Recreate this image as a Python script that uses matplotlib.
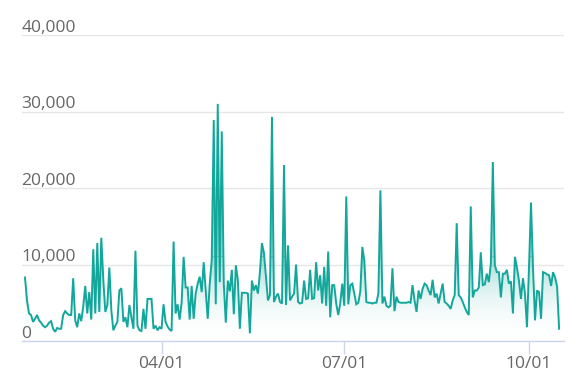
import numpy as np
import pandas as pd
import matplotlib
matplotlib.use("Agg")
import matplotlib.pyplot as plt
import matplotlib.dates as mdates
from matplotlib.transforms import blended_transform_factory

START = "2019-01-23"

# daily values, in thousands
VALUES_K = [
    8.3, 5.3, 3.6, 3.4, 2.5, 2.9, 3.4, 2.7, 2.4, 2.0,
    1.8, 2.0, 2.4, 2.6, 1.6, 1.2, 1.7, 1.6, 1.6, 3.4,
    3.9, 3.6, 3.4, 3.4, 8.2, 2.7, 1.8, 3.6, 2.6, 4.5,
    7.2, 3.6, 6.4, 2.8, 12.0, 3.6, 12.8, 3.8, 13.5, 8.0,
    3.8, 4.7, 9.6, 4.0, 1.4, 2.0, 2.5, 6.6, 6.9, 2.5,
    3.1, 1.8, 4.7, 3.1, 1.6, 11.8, 2.0, 1.4, 1.3, 4.2,
    1.6, 5.5, 5.5, 5.5, 1.6, 2.0, 1.4, 1.8, 1.6, 4.8,
    2.5, 1.9, 1.5, 1.3, 13.0, 3.6, 4.8, 2.8, 5.0, 11.0,
    7.0, 7.0, 2.8, 7.2, 2.9, 6.2, 7.5, 8.4, 6.4, 10.3,
    6.6, 2.9, 7.5, 10.6, 28.9, 4.8, 31.0, 7.7, 27.4, 7.5,
    2.4, 7.9, 6.5, 9.3, 3.5, 9.9, 8.0, 1.6, 6.3, 6.3,
    6.3, 6.2, 1.0, 7.9, 6.6, 7.3, 6.2, 9.0, 12.8, 11.5,
    8.4, 5.3, 6.0, 29.3, 5.1, 5.8, 6.2, 5.1, 4.9, 23.0,
    4.7, 12.5, 5.3, 5.8, 6.2, 10.0, 5.1, 4.9, 5.0, 7.9,
    5.5, 5.6, 9.3, 5.5, 5.6, 10.3, 6.6, 8.6, 4.9, 9.7,
    4.6, 11.7, 3.1, 7.3, 7.3, 4.9, 3.4, 4.9, 7.5, 4.6,
    18.9, 4.8, 7.3, 7.5, 6.2, 4.8, 5.0, 6.5, 12.3, 10.5,
    5.1, 5.0, 5.0, 4.9, 5.0, 5.0, 6.2, 19.7, 4.9, 5.8,
    4.6, 4.4, 4.6, 9.5, 3.9, 5.8, 5.1, 5.0, 5.0, 5.0,
    5.0, 5.1, 5.0, 7.3, 5.3, 3.8, 6.6, 5.5, 6.8, 7.5,
    7.3, 6.6, 6.0, 8.0, 5.7, 6.2, 4.9, 6.2, 7.5, 5.1,
    4.9, 4.6, 4.2, 5.3, 6.0, 15.4, 6.0, 5.7, 5.1, 4.4,
    3.8, 3.4, 17.6, 5.7, 6.6, 6.6, 7.0, 11.6, 7.3, 7.4,
    8.8, 7.7, 10.1, 23.4, 9.9, 9.0, 9.0, 5.7, 8.8, 8.8,
    9.3, 7.5, 7.8, 3.6, 11.0, 9.6, 7.9, 5.5, 8.2, 6.2,
    1.8, 9.6, 18.1, 9.6, 2.7, 6.6, 6.4, 2.9, 9.0, 8.9,
    8.7, 8.6, 7.2, 9.0, 8.3, 7.1, 1.6,
]
Y_TICKS = [0, 10000, 20000, 30000, 40000]
X_TICKS = ["2019-04-01", "2019-07-01", "2019-10-01"]

LINE = "#13a79c"
GRID = "#e6e6e6"
AXIS = "#ccd6eb"
LABEL = "#666666"
FONT = "Open Sans"
FS = 12.5

dates = pd.date_range(START, periods=len(VALUES_K), freq="D")
values = np.array(VALUES_K) * 1000
x = mdates.date2num(dates)

fig = plt.figure(figsize=(5.88, 3.81), dpi=100)
ax = fig.add_axes([0.0374, 0.105, 0.922, 0.803])

ax.set_xlim(x[0] - 1.5, x[-1] + 2.5)
ax.set_ylim(0, 40000)

# gradient fill under the line
grad = np.linspace(0, 1, 256).reshape(-1, 1)
cmap = matplotlib.colors.LinearSegmentedColormap.from_list(
    "fade", [(1, 1, 1, 0), (0.09, 0.65, 0.61, 0.40)])
im = ax.imshow(grad, cmap=cmap, aspect="auto", origin="lower",
               extent=[x[0], x[-1], 0, 11000], zorder=1, vmin=0, vmax=1)
im2 = ax.imshow([[1]], cmap=cmap, aspect="auto", origin="lower",
                extent=[x[0], x[-1], 11000, 40000], zorder=1, vmin=0, vmax=1)
poly = ax.fill_between(x, values, 0, color="none", lw=0)
im.set_clip_path(poly.get_paths()[0], transform=ax.transData)
im2.set_clip_path(poly.get_paths()[0], transform=ax.transData)

ax.plot(x, values, color=LINE, lw=1.4, zorder=3, solid_joinstyle="miter")

for s in ["left", "right", "top"]:
    ax.spines[s].set_visible(False)
ax.spines["bottom"].set_color(AXIS)
ax.spines["bottom"].set_linewidth(1.0)
ax.spines["bottom"].set_zorder(4)

ax.set_yticks(Y_TICKS)
ax.tick_params(axis="y", length=0, labelleft=False)
ax.yaxis.grid(True, color=GRID, lw=1.0)
ax.set_axisbelow(True)

tr = blended_transform_factory(ax.transAxes, ax.transData)
for v in Y_TICKS:
    ax.annotate(f"{v:,}", xy=(0, v), xycoords=tr, xytext=(-0.5, 2.5),
                textcoords="offset points", ha="left", va="baseline",
                fontsize=FS, color=LABEL, family=FONT)

ax.set_xticks(mdates.date2num(pd.to_datetime(X_TICKS)))
ax.set_xticklabels([pd.Timestamp(t).strftime("%m/%d") for t in X_TICKS],
                   fontsize=FS, color=LABEL, family=FONT)
ax.tick_params(axis="x", length=9, width=1, color=AXIS, pad=2)

fig.savefig("out.png", dpi=100, facecolor="white")
